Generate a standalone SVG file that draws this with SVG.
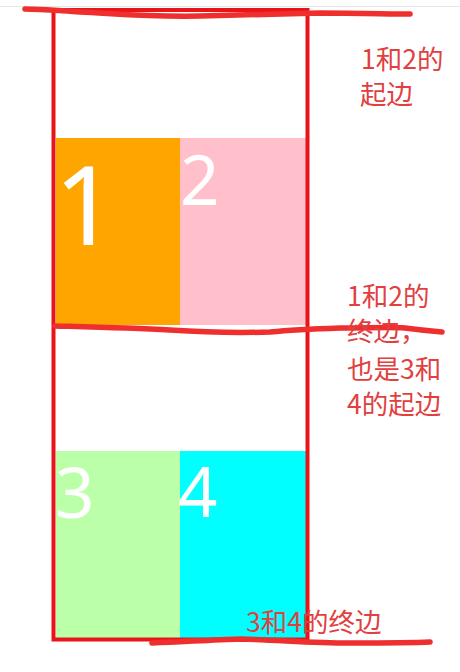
<svg xmlns="http://www.w3.org/2000/svg" width="460" height="672" viewBox="0 0 460 672">
  <style>
    .digit { font-family: "Noto Sans", "Open Sans", sans-serif; fill: #ffffff; }
    .note { font-family: "Noto Sans CJK SC", "Noto Sans", sans-serif; font-size: 26.5px; fill: #e2403f; }
    .mark { fill: none; stroke: #ef2e2e; stroke-width: 5.5; stroke-linecap: round; stroke-linejoin: round; }
  </style>
  <rect x="0" y="0" width="460" height="672" fill="#ffffff"/>
  <line x1="0" y1="6.5" x2="460" y2="6.5" stroke="#e6e6e6" stroke-width="1"/>

  <g id="box1">
    <rect x="56" y="138" width="124" height="187" fill="#ffa500"/>
    <text class="digit" x="54" y="245" font-size="110">1</text>
  </g>
  <g id="box2">
    <rect x="180" y="138" width="126" height="187" fill="#ffc0cb"/>
    <text class="digit" x="180" y="205" font-size="69">2</text>
  </g>
  <g id="box3">
    <rect x="56" y="451" width="124" height="187" fill="#bbffa8"/>
    <text class="digit" x="55" y="518" font-size="69">3</text>
  </g>
  <g id="box4">
    <rect x="180" y="451" width="126" height="187" fill="#00ffff"/>
    <text class="digit" x="178" y="517" font-size="69">4</text>
  </g>

  <g id="container">
    <rect x="53.5" y="10" width="254" height="629.5" fill="none" stroke="#e8141a" stroke-width="4"/>
  </g>

  <g id="marks">
    <path class="mark" d="M25,9 C40,9 50,10 80,12 C120,14 150,17 200,16 C250,15 290,14 320,13 C360,13 390,14 410,14"/>
    <path class="mark" d="M55,326 C90,327 130,328 170,330 C200,332 240,333 270,332 C290,330 310,329 340,328 C370,328 390,327 405,328 C420,330 430,331 442,332"/>
    <path class="mark" d="M152,643 C180,642 210,640 240,639 C280,640 310,643 350,643 C380,643 410,643 430,642"/>
  </g>

  <g id="labels">
    <text class="note" x="361" y="69">1和2的</text>
    <text class="note" x="360" y="104">起边</text>
    <text class="note" x="347" y="306">1和2的</text>
    <text class="note" x="347" y="341">终边，</text>
    <text class="note" x="347" y="379">也是3和</text>
    <text class="note" x="347" y="414">4的起边</text>
    <text class="note" x="246" y="632">3和4的终边</text>
  </g>
</svg>
